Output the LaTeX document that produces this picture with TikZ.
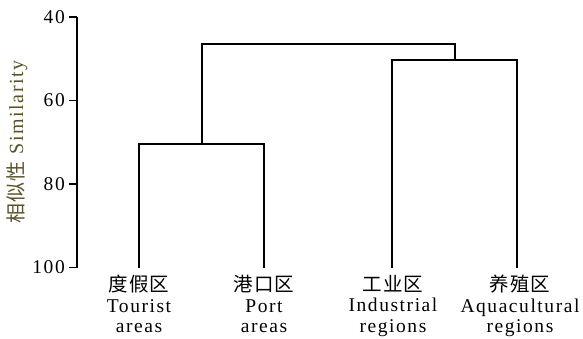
\documentclass[tikz,border=0pt]{standalone}
\usepackage{fontspec}
\setmainfont{Liberation Serif}[LetterSpace=8]
\newfontfamily\cjk{Noto Sans CJK SC}[LetterSpace=6]
\definecolor{olivelab}{RGB}{88,84,40}
\begin{document}
\begin{tikzpicture}[x=1pt,y=-1pt,
  lbl/.style={font=\fontsize{19.5}{20.5}\selectfont, align=center, inner sep=0pt},
  tick/.style={font=\fontsize{19.5}{20}\selectfont, anchor=east, inner sep=0pt},
  axisline/.style={line width=1.3pt},
  dend/.style={line width=1.1pt}]
\useasboundingbox (0,0) rectangle (583,338);
% axis
\coordinate (a40) at (77,17);
\coordinate (a100) at (77,267.5);
\draw[axisline] (a40) -- (a100);
\foreach \v/\yy in {40/17,60/100.5,80/184,100/267.5}{
  \draw[axisline] (69,\yy) -- (77,\yy);
  \node[tick] (t\v) at (65,\yy) {\v};
}
\node[font=\fontsize{20}{20}\selectfont, text=olivelab, rotate=90, inner sep=0pt] (ylab) at (17,142) {{\cjk 相似性} Similarity};
% leaves
\coordinate (l1) at (139,268);
\coordinate (l2) at (264,268);
\coordinate (l3) at (392,268);
\coordinate (l4) at (517,268);
\coordinate (m12) at (202,144);
\coordinate (m34) at (455,60);
% dendrogram
\draw[dend] (l1) |- (264,144) -- (l2);
\draw[dend] (l3) |- (517,60) -- (l4);
\draw[dend] (m12) |- (455,44) -- (m34);
% labels
\node[lbl, anchor=north] (n1) at (139,275) {{\cjk 度假区}\\Tourist\\areas};
\node[lbl, anchor=north] (n2) at (264,275) {{\cjk 港口区}\\Port\\areas};
\node[lbl, anchor=north] (n3) at (393,275) {{\cjk 工业区}\\Industrial\\regions};
\node[lbl, anchor=north] (n4) at (520,275) {{\cjk 养殖区}\\Aquacultural\\regions};
\end{tikzpicture}
\end{document}
